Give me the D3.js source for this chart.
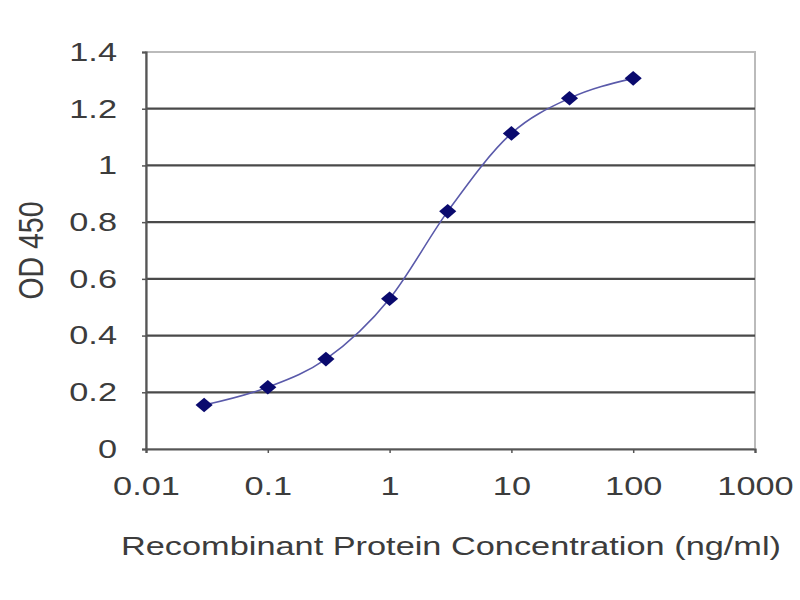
<!DOCTYPE html>
<html>
<head>
<meta charset="utf-8">
<script src="https://cdn.jsdelivr.net/npm/d3@7"></script>
<style>
  body { margin: 0; background: #fff; }
  text { font-family: "Liberation Sans", Arial, sans-serif; fill: #3c3c3c; }
</style>
</head>
<body>
<svg id="chart" width="800" height="600"></svg>
<script>
// concentrations (ng/ml) and OD readings
const conc = [0.03, 0.1, 0.3, 1, 3, 10, 30, 100];
const od = [0.155, 0.218, 0.317, 0.530, 0.838, 1.113, 1.237, 1.307];
const xTicks = [0.01, 0.1, 1, 10, 100, 1000];
const xTickLabels = ["0.01", "0.1", "1", "10", "100", "1000"];
const yTicks = [0, 0.2, 0.4, 0.6, 0.8, 1, 1.2, 1.4];
const yTickLabels = ["0", "0.2", "0.4", "0.6", "0.8", "1", "1.2", "1.4"];

const svg = d3.select("#chart");
const margin = { left: 146, right: 45, top: 52, bottom: 151 };
const W = 800, H = 600;
const stretch = 1.32; // the source picture is wider than it is tall

const x = d3.scaleLog().domain([0.01, 1000]).range([margin.left, W - margin.right]);
const y = d3.scaleLinear().domain([0, 1.4]).range([H - margin.bottom, margin.top]);

// widen text horizontally, like the source
function widen(sel) {
  sel.each(function () {
    const len = this.getComputedTextLength();
    d3.select(this).attr("textLength", len * stretch).attr("lengthAdjust", "spacingAndGlyphs");
  });
}

// plot frame (top/right light)
svg.append("rect")
  .attr("x", x(0.01)).attr("y", y(1.4))
  .attr("width", x(1000) - x(0.01)).attr("height", y(0) - y(1.4))
  .attr("fill", "none").attr("stroke", "#bbb").attr("stroke-width", 2);

// horizontal gridlines
svg.append("g")
  .selectAll("line")
  .data(yTicks.filter(d => d > 0 && d < 1.4))
  .join("line")
  .attr("x1", x(0.01)).attr("x2", x(1000))
  .attr("y1", d => y(d)).attr("y2", d => y(d))
  .attr("stroke", "#4a4a4a").attr("stroke-width", 2.2);

// y axis
const yAxis = svg.append("g")
  .attr("transform", `translate(${x(0.01)},0)`)
  .call(d3.axisLeft(y).tickValues(yTicks).tickFormat((d, i) => yTickLabels[i]).tickSize(4).tickPadding(25));
yAxis.select(".domain").attr("stroke", "#555").attr("stroke-width", 2.2);
yAxis.selectAll(".tick line").attr("stroke", "#555").attr("stroke-width", 1.5);
yAxis.selectAll(".tick text").style("font-size", "26px").attr("fill", "#3c3c3c").call(widen);

// x axis
const xAxis = svg.append("g")
  .attr("transform", `translate(0,${y(0)})`)
  .call(d3.axisBottom(x).tickValues(xTicks).tickFormat((d, i) => xTickLabels[i]).tickSize(4).tickPadding(24));
xAxis.select(".domain").attr("stroke", "#555").attr("stroke-width", 2.2);
xAxis.selectAll(".tick line").attr("stroke", "#555").attr("stroke-width", 1.5);
xAxis.selectAll(".tick text").style("font-size", "26px").attr("fill", "#3c3c3c").call(widen);

// axis titles
svg.append("text")
  .attr("transform", `translate(31,${(y(0) + y(1.4)) / 2}) scale(${stretch},1) rotate(-90)`)
  .attr("text-anchor", "middle")
  .attr("dy", "0.35em")
  .attr("textLength", 98).attr("lengthAdjust", "spacingAndGlyphs")
  .style("font-size", "26px")
  .text("OD 450");

svg.append("text")
  .attr("x", 451).attr("y", 555)
  .attr("text-anchor", "middle")
  .style("font-size", "26px")
  .text("Recombinant Protein Concentration (ng/ml)")
  .call(widen);

// curve
const pts = conc.map((c, i) => ({ c, v: od[i] }));
svg.append("path")
  .datum(pts)
  .attr("fill", "none")
  .attr("stroke", "#5a5aaa")
  .attr("stroke-width", 1.6)
  .attr("d", d3.line().x(d => x(d.c)).y(d => y(d.v)).curve(d3.curveMonotoneX));

// markers: wide diamonds
const wideDiamond = {
  draw(ctx, size) {
    const w = Math.sqrt(size) * 0.7, h = w * 0.85;
    ctx.moveTo(0, -h); ctx.lineTo(w, 0); ctx.lineTo(0, h); ctx.lineTo(-w, 0); ctx.closePath();
  }
};
svg.append("g")
  .selectAll("path")
  .data(pts)
  .join("path")
  .attr("transform", d => `translate(${x(d.c)},${y(d.v)})`)
  .attr("d", d3.symbol(wideDiamond, 150))
  .attr("fill", "#0a0a6e");
</script>
</body>
</html>
